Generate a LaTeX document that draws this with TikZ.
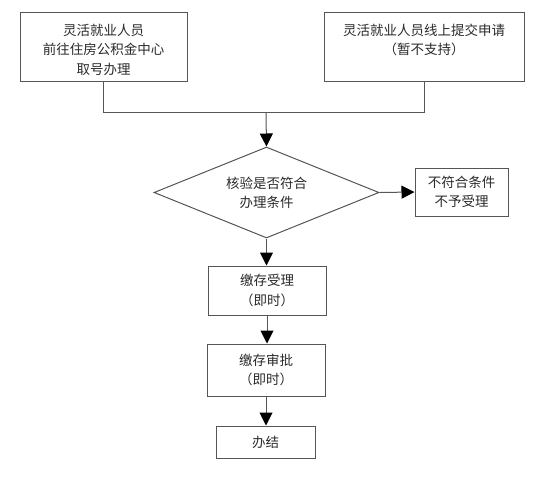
\documentclass[tikz,border=0pt]{standalone}
\usepackage{fontspec}
\setmainfont{Noto Sans CJK SC}
\usetikzlibrary{shapes.geometric,arrows.meta}
\definecolor{linec}{HTML}{555555}
\definecolor{textc}{HTML}{2A2A2A}
\begin{document}
\begin{tikzpicture}[x=1pt,y=-1pt,
  box/.style={draw=linec,line width=1pt,rectangle,inner sep=0pt},
  txt/.style={text=textc,font=\fontsize{13.5pt}{19.5pt}\selectfont,align=center,inner sep=0pt},
  conn/.style={draw=linec,line width=1pt},
  arr/.style={conn,-{Triangle[length=13pt,width=13pt,fill=black,color=black]}}]
\useasboundingbox (0,0) rectangle (546,484);
% top boxes
\node[box,minimum width=167pt,minimum height=69pt] (a) at (103.5,47.5) {};
\node[txt] (at) at (103.5,49.5) {灵活就业人员\\前往住房公积金中心\\取号办理};
\node[box,minimum width=200pt,minimum height=69pt] (b) at (424,47.5) {};
\node[txt] (bt) at (424,40) {灵活就业人员线上提交申请\\（暂不支持）};
\coordinate (j) at (266,113);
% diamond
\node[draw=linec,line width=1pt,diamond,inner sep=0pt,minimum width=225pt,minimum height=91pt] (d) at (266.5,192.5) {};
\node[txt] (dt) at (266.5,193) {核验是否符合\\办理条件};
% reject
\node[box,minimum width=93pt,minimum height=48pt,txt] (r) at (461.5,192) {不符合条件\\不予受理};
% steps
\node[box,minimum width=118pt,minimum height=49pt,txt] (s1) at (267,290.5) {缴存受理\\（即时）};
\node[box,minimum width=118pt,minimum height=52pt,txt] (s2) at (266,370) {缴存审批\\（即时）};
\node[box,minimum width=99pt,minimum height=32pt,txt] (s3) at (265.5,442) {办结};
% connectors
\draw[conn] (a.south) |- (j);
\draw[conn] (b.south) |- (j);
\draw[arr] (j) -- (d.north);
\draw[arr] (d.east) -- (r.west);
\draw[arr] (d.south) -- (d.south |- s1.north);
\draw[arr] (s1.south) -- (s1.south |- s2.north);
\draw[arr] (s2.south) -- (s2.south |- s3.north);
\end{tikzpicture}
\end{document}
